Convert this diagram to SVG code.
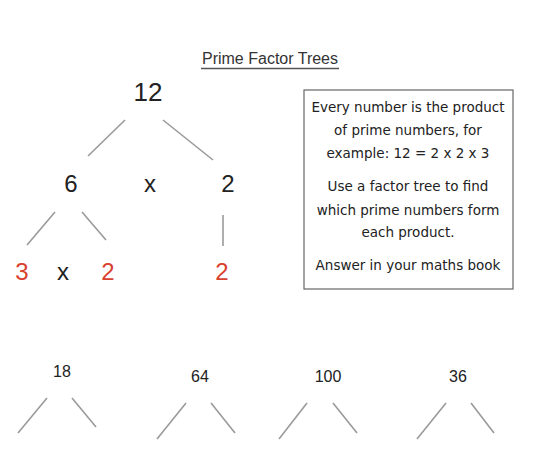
<svg xmlns="http://www.w3.org/2000/svg" width="540" height="458" viewBox="0 0 540 458">
<style>
.num{font-family:"Liberation Sans",Arial,sans-serif;fill:#222;text-anchor:middle}
.big{font-size:26px}
.mid{font-size:24px}
.red{fill:#d9412f}
.small{font-size:16px}
.box{font-family:"DejaVu Sans","Liberation Sans",sans-serif;font-size:13.5px;fill:#222;text-anchor:middle}
.ln{stroke:#9a9a9a;stroke-width:1.6;fill:none}
</style>
<rect width="540" height="458" fill="#fff"/>
<g id="title">
<text x="270" y="64" font-family="Liberation Sans,Arial,sans-serif" font-size="16" fill="#333" text-anchor="middle">Prime Factor Trees</text>
<line x1="201" y1="68.5" x2="339" y2="68.5" stroke="#555" stroke-width="1.5"/>
</g>
<g id="n12"><text class="num big" x="148" y="101">12</text></g>
<g id="n6"><text class="num mid" x="71" y="192">6</text></g>
<g id="x1"><text class="num mid" x="150" y="192">x</text></g>
<g id="n2"><text class="num mid" x="228" y="192">2</text></g>
<g id="n3r"><text class="num mid red" x="22" y="280">3</text></g>
<g id="x2"><text class="num mid" x="63" y="280">x</text></g>
<g id="n2r"><text class="num mid red" x="108" y="280">2</text></g>
<g id="n2r2"><text class="num mid red" x="222" y="280">2</text></g>
<g id="info">
<rect x="304" y="90" width="209" height="199" fill="#fff" stroke="#666" stroke-width="1.2"/>
<text class="box" x="408" y="112">Every number is the product</text>
<text class="box" x="408" y="135">of prime numbers, for</text>
<text class="box" x="408" y="158">example: 12 = 2 x 2 x 3</text>
<text class="box" x="408" y="191">Use a factor tree to find</text>
<text class="box" x="408" y="215">which prime numbers form</text>
<text class="box" x="408" y="237">each product.</text>
<text class="box" x="408" y="270">Answer in your maths book</text>
</g>
<g id="n18"><text class="num small" x="62" y="377">18</text></g>
<g id="n64"><text class="num small" x="200" y="382">64</text></g>
<g id="n100"><text class="num small" x="328" y="382">100</text></g>
<g id="n36"><text class="num small" x="458" y="382">36</text></g>
<g id="connectors">
<line class="ln" x1="125" y1="120" x2="88" y2="156"/>
<line class="ln" x1="163" y1="120" x2="213" y2="160"/>
<line class="ln" x1="55" y1="212" x2="27" y2="245"/>
<line class="ln" x1="82" y1="212" x2="106" y2="240"/>
<line class="ln" x1="223" y1="215" x2="223" y2="246"/>
<line class="ln" x1="47" y1="398" x2="18" y2="433"/>
<line class="ln" x1="72" y1="398" x2="96" y2="427"/>
<line class="ln" x1="186" y1="403" x2="157" y2="439"/>
<line class="ln" x1="211" y1="403" x2="235" y2="433"/>
<line class="ln" x1="307" y1="403" x2="279" y2="439"/>
<line class="ln" x1="333" y1="403" x2="357" y2="433"/>
<line class="ln" x1="446" y1="403" x2="417" y2="439"/>
<line class="ln" x1="471" y1="403" x2="494" y2="433"/>
</g>
</svg>
